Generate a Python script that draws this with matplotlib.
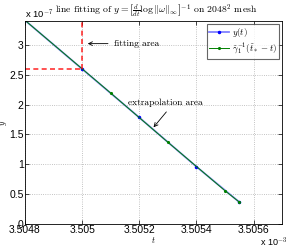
import numpy as np
import matplotlib
matplotlib.use("Agg")
from matplotlib import pyplot as plt

plt.rcParams['mathtext.fontset'] = 'cm'
plt.rcParams['font.family'] = ['Liberation Sans', 'DejaVu Sans']

# values in units of 1e-3 (t) and 1e-7 (y)
t_data = [3.5048, 3.5050, 3.5052, 3.5054, 3.50555]
y_data = [3.41, 2.596, 1.784, 0.961, 0.369]
t_fit = [3.5048, 3.5051, 3.5053, 3.5055, 3.50555]
y_fit = [3.41, 2.193, 1.371, 0.559, 0.369]
t_fit_end = 3.5050
y_fit_end = 2.596

xticks = [3.5048, 3.5050, 3.5052, 3.5054, 3.5056]
xticklabels = ['3.5048', '3.505', '3.5052', '3.5054', '3.5056']
yticks = [0, 0.5, 1, 1.5, 2, 2.5, 3]
yticklabels = ['0', '0.5', '1', '1.5', '2', '2.5', '3']

fig = plt.figure(figsize=(2.87, 2.49), dpi=100)
ax = fig.add_axes([0.087, 0.100, 0.896, 0.816])

ax.plot(t_data, y_data, color='#8080ff', linewidth=1.3, marker='.', markersize=3,
        markerfacecolor='blue', markeredgecolor='blue', label=r'$y(t)$')
ax.plot(t_fit, y_fit, color='green', linewidth=0.7, marker='.', markersize=2.5,
        label=r'$\tilde{\gamma}_1^{-1}(\tilde{t}_* - t)$')

# fitting region marker
ax.plot([t_fit_end, t_fit_end], [y_fit_end, 3.4], color='red', linestyle=(0, (3, 2)), linewidth=1.2, alpha=0.8)
ax.plot([3.5048, t_fit_end], [y_fit_end, y_fit_end], color='red', linestyle=(0, (3, 2)), linewidth=1.2, alpha=0.8)

ax.set_xlim(3.5048, 3.5057)
ax.set_ylim(0, 3.4)
ax.set_xticks(xticks)
ax.set_xticklabels(xticklabels)
ax.set_yticks(yticks)
ax.set_yticklabels(yticklabels)
ax.tick_params(direction='in', labelsize=7.5, length=3, width=0.5, top=True, right=True, pad=1)
ax.grid(True, linestyle=':', color='#b0b0b0', linewidth=0.6)
for s in ax.spines.values():
    s.set_linewidth(0.6)

ax.annotate('fitting area', xy=(3.50501, 3.02), xytext=(3.50511, 3.02),
            fontsize=6.8, family='cmr10', va='center', ha='left',
            arrowprops=dict(arrowstyle='->', color='black', lw=0.6))
ax.annotate('extrapolation area', xy=(3.50525, 1.62), xytext=(3.50516, 2.03),
            fontsize=6.8, family='cmr10', va='center', ha='left',
            arrowprops=dict(arrowstyle='->', color='black', lw=0.6, shrinkA=2, shrinkB=0,
                            relpos=(0.57, 0)))

ax.set_xlabel(r'$t$', fontsize=6, labelpad=0)
ax.set_ylabel(r'$y$', fontsize=6, labelpad=0)

fig.text(0.087, 0.942, r'x 10$^{-7}$', fontsize=6.8, ha='left', va='center')
fig.text(0.19, 0.958, r'line fitting of $y=\left[\frac{d}{dt}\log\|\omega\|_\infty\right]^{-1}$ on $2048^2$ mesh',
         fontsize=7.0, family='cmr10', ha='left', va='center')
fig.text(0.905, 0.025, r'x 10$^{-3}$', fontsize=6.5, ha='left', va='center')

leg = ax.legend(loc='upper right', fontsize=6.5, handlelength=2.2, borderpad=0.3,
                labelspacing=0.2, handletextpad=0.3, borderaxespad=0.3, fancybox=False,
                edgecolor='#404040')
leg.get_frame().set_linewidth(0.8)

fig.savefig('out.png', dpi=100)
